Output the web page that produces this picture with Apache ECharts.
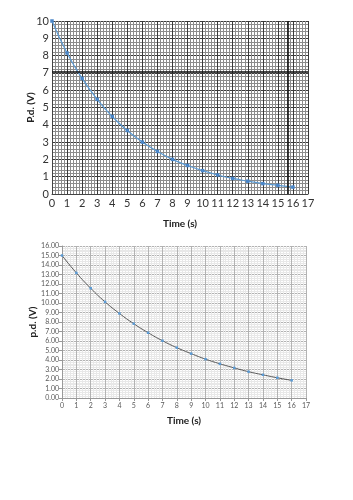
<!DOCTYPE html>
<html><head><meta charset="utf-8">
<script src="https://cdn.jsdelivr.net/npm/echarts@6/dist/echarts.min.js"></script>
<style>html,body{margin:0;padding:0;background:#fff;}#c{width:353px;height:500px;}</style>
</head><body><div id="c"></div>
<script>
const timeTop = [0,1,2,3,4,5,6,7,8,9,10,11,12,13,14,15,16];
const pdTop = [10,8.15,6.68,5.47,4.48,3.67,3.0,2.46,2.0,1.65,1.35,1.1,0.9,0.74,0.6,0.5,0.4];
const timeBottom = [0,1,2,3,4,5,6,7,8,9,10,11,12,13,14,15,16];
const pdBottom = [15,13.17,11.55,10.12,8.9,7.82,6.87,6.03,5.3,4.67,4.09,3.6,3.17,2.77,2.44,2.13,1.86];
const topXTicks = [0,17,1];
const topYTicks = [0,10,1];
const bottomXTicks = [0,17,1];
const bottomYTicks = [0,16,1];
const topHeavyY = [7.05];
const topHeavyX = [15.65];

const FONT = 'Lato, "Noto Sans", sans-serif';
const chart = echarts.init(document.getElementById('c'), null, {renderer:'canvas'});
chart.setOption({
  animation:false,
  textStyle:{fontFamily:FONT},
  grid:[
    {left:52, top:21, width:256, height:173, containLabel:false},
    {left:62, top:246, width:244, height:152, containLabel:false}
  ],
  xAxis:[
    {gridIndex:0, type:'value', min:topXTicks[0], max:topXTicks[1], interval:topXTicks[2],
     name:'Time (s)', nameLocation:'middle', nameGap:25, nameMoveOverlap:false,
     nameTextStyle:{fontFamily:FONT, fontWeight:'bold', fontSize:10, color:'#222'},
     axisLine:{show:true, lineStyle:{color:'#444'}}, axisTick:{show:false},
     axisLabel:{fontSize:11, color:'#333', margin:4},
     splitLine:{show:true, lineStyle:{color:'#3a3a3a', width:1}},
     minorTick:{show:false, splitNumber:5},
     minorSplitLine:{show:true, lineStyle:{color:'#8c8c8c', width:1}}},
    {gridIndex:1, type:'value', min:bottomXTicks[0], max:bottomXTicks[1], interval:bottomXTicks[2],
     name:'Time (s)', nameLocation:'middle', nameGap:18, nameMoveOverlap:false,
     nameTextStyle:{fontFamily:FONT, fontWeight:'bold', fontSize:10, color:'#222'},
     axisLine:{show:true, lineStyle:{color:'#999'}}, axisTick:{show:true, length:3, inside:false, lineStyle:{color:'#999'}},
     axisLabel:{fontSize:7, color:'#595959', margin:4},
     splitLine:{show:true, lineStyle:{color:'#b3b3b3', width:1}},
     minorTick:{show:false, splitNumber:5},
     minorSplitLine:{show:true, lineStyle:{color:'#e8e8e8', width:1}}}
  ],
  yAxis:[
    {gridIndex:0, type:'value', min:topYTicks[0], max:topYTicks[1], interval:topYTicks[2],
     name:'P.d. (V)', nameLocation:'middle', nameGap:16, nameRotate:90, nameMoveOverlap:false,
     nameTextStyle:{fontFamily:FONT, fontWeight:'bold', fontSize:10, color:'#222'},
     axisLine:{show:true, lineStyle:{color:'#444'}}, axisTick:{show:false},
     axisLabel:{fontSize:11, color:'#333', margin:3},
     splitLine:{show:true, lineStyle:{color:'#3a3a3a', width:1}},
     minorTick:{show:false, splitNumber:5},
     minorSplitLine:{show:true, lineStyle:{color:'#8c8c8c', width:1}}},
    {gridIndex:1, type:'value', min:bottomYTicks[0], max:bottomYTicks[1], interval:bottomYTicks[2],
     name:'p.d. (V)', nameLocation:'middle', nameGap:24, nameRotate:90, nameMoveOverlap:false,
     nameTextStyle:{fontFamily:FONT, fontWeight:'bold', fontSize:10, color:'#222'},
     axisLine:{show:true, lineStyle:{color:'#999'}}, axisTick:{show:true, length:3, lineStyle:{color:'#999'}},
     axisLabel:{fontSize:7, color:'#595959', margin:3, formatter:v=>v.toFixed(2)},
     splitLine:{show:true, lineStyle:{color:'#b3b3b3', width:1}},
     minorTick:{show:false, splitNumber:5},
     minorSplitLine:{show:true, lineStyle:{color:'#e8e8e8', width:1}}}
  ],
  series:[
    {type:'line', xAxisIndex:0, yAxisIndex:0, smooth:true,
     data:timeTop.map((t,i)=>[t,pdTop[i]]),
     symbol:'rect', symbolSize:3.5, showSymbol:true,
     lineStyle:{color:'#5B9BD5', width:1.2}, itemStyle:{color:'#4A86C8'},
     markLine:{silent:true, symbol:'none', label:{show:false},
       lineStyle:{color:'#111', width:1.6, type:'solid'},
       data:[...topHeavyY.map(v=>({yAxis:v})), ...topHeavyX.map(v=>({xAxis:v}))]}},
    {type:'line', xAxisIndex:1, yAxisIndex:1, smooth:true,
     data:timeBottom.map((t,i)=>[t,pdBottom[i]]),
     symbol:'rect', symbolSize:2.5, showSymbol:true,
     lineStyle:{color:'#555', width:1}, itemStyle:{color:'#5B9BD5'}}
  ]
});
</script></body></html>
